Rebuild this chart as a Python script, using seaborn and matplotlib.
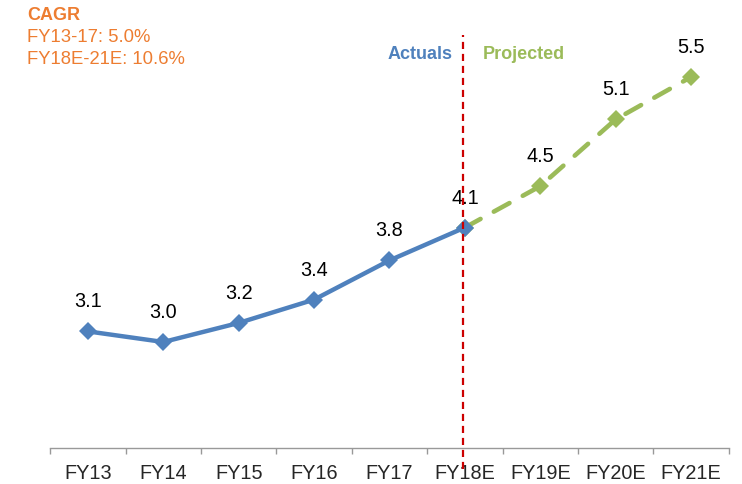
import matplotlib
matplotlib.use("Agg")
import matplotlib.pyplot as plt
import seaborn as sns
import pandas as pd

categories = ["FY13", "FY14", "FY15", "FY16", "FY17", "FY18E", "FY19E", "FY20E", "FY21E"]
actual_values = [3.1, 3.0, 3.18, 3.4, 3.77, 4.08]
projected_values = [4.08, 4.47, 5.1, 5.5]
label_values = ["3.1", "3.0", "3.2", "3.4", "3.8", "4.1", "4.5", "5.1", "5.5"]
cagr_title = "CAGR"
cagr_lines = ["FY13-17: 5.0%", "FY18E-21E: 10.6%"]

sns.set_style("white")
plt.rcParams["font.family"] = ["Liberation Sans", "DejaVu Sans"]

blue = "#4F81BD"
green = "#9BBB59"
red = "#CC0000"
orange = "#ED7D31"

df_a = pd.DataFrame({"x": list(range(len(actual_values))), "y": actual_values})
df_p = pd.DataFrame({"x": list(range(5, 5 + len(projected_values))), "y": projected_values})

fig = plt.figure(figsize=(7.42, 4.85), dpi=100)
W, H = 742, 485
ax = fig.add_axes([50.3 / W, (H - 449) / H, 678.4 / W, 424 / H])

sns.lineplot(data=df_p, x="x", y="y", ax=ax, color=green, linewidth=3.3,
             marker="D", markersize=9.5, markeredgewidth=0,
             dashes=False, linestyle=(0, (3.9, 3.3)), dash_capstyle="round", zorder=2)
sns.lineplot(data=df_a, x="x", y="y", ax=ax, color=blue, linewidth=3.2,
             marker="D", markersize=9.5, markeredgewidth=0, zorder=3)

ax.set_xlim(-0.5, 8.5)
ax.set_ylim(2.0, 6.0)

values_all = actual_values + projected_values[1:]
for i, (v, lab) in enumerate(zip(values_all, label_values)):
    ax.annotate(lab, (i, v), xytext=(0, 18), textcoords="offset points",
                ha="center", va="baseline", fontsize=14.3, color="black")

ax.axvline(4.97, ymin=-0.05, ymax=0.975, color=red, linestyle=(0, (3.2, 2.2)),
           linewidth=1.6, clip_on=False, zorder=4)

ax.text(4.84, 5.68, "Actuals", ha="right", va="baseline", color=blue,
        fontsize=13, fontweight="bold")
ax.text(5.24, 5.68, "Projected", ha="left", va="baseline", color=green,
        fontsize=13, fontweight="bold")

fig.text(27 / W, 1 - 19.5 / H, cagr_title, ha="left", va="baseline", color=orange,
         fontsize=13, fontweight="bold")
fig.text(27 / W, 1 - 41.5 / H, cagr_lines[0], ha="left", va="baseline", color=orange,
         fontsize=13.3)
fig.text(27 / W, 1 - 63.5 / H, cagr_lines[1], ha="left", va="baseline", color=orange,
         fontsize=13.3)

ax.set_xticks(range(len(categories)))
ax.set_xticklabels(categories, fontsize=14.3)
ax.set_xticks([i - 0.5 for i in range(len(categories) + 1)], minor=True)
ax.tick_params(axis="x", which="major", length=0, pad=10.5, bottom=False)
ax.tick_params(axis="x", which="minor", length=4.5, width=1, color="#999999",
               direction="out", bottom=True)
ax.set_yticks([])
ax.set_xlabel("")
ax.set_ylabel("")
for s in ["top", "right", "left"]:
    ax.spines[s].set_visible(False)
ax.spines["bottom"].set_color("#999999")
ax.spines["bottom"].set_linewidth(1)

fig.savefig("out.png", dpi=100)
